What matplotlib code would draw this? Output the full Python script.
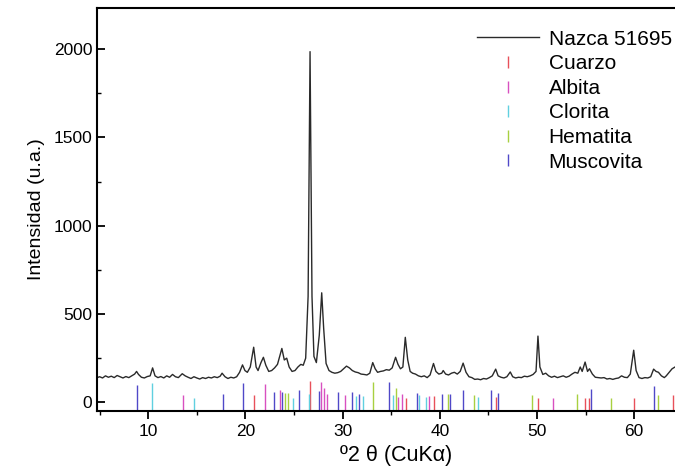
from matplotlib import pyplot as plt
from matplotlib.lines import Line2D
from matplotlib.ticker import MultipleLocator

plt.rcParams['font.family'] = ['Liberation Sans', 'DejaVu Sans']

# difractograma Nazca 51695
two_theta = [
  4.75, 5.0, 5.3, 5.6, 5.9, 6.2, 6.5, 6.8, 7.1, 7.4, 7.7, 8.0, 8.3, 8.6, 8.8, 9.0,
  9.3, 9.6, 9.9, 10.2, 10.45, 10.7, 11.0, 11.3, 11.6, 11.9, 12.2, 12.5, 12.8, 13.1,
  13.5, 13.8, 14.1, 14.4, 14.7, 15.0, 15.3, 15.6, 15.9, 16.2, 16.5, 16.8, 17.1, 17.4,
  17.6, 17.9, 18.2, 18.5, 18.8, 19.1, 19.4, 19.7, 19.95, 20.2, 20.5, 20.85, 21.1,
  21.3, 21.6, 21.85, 22.1, 22.4, 22.7, 23.0, 23.3, 23.55, 23.75, 24.0, 24.25, 24.5,
  24.8, 25.1, 25.4, 25.7, 25.95, 26.2, 26.45, 26.65, 26.85, 27.05, 27.3, 27.6, 27.85,
  28.05, 28.3, 28.6, 28.9, 29.2, 29.5, 29.8, 30.1, 30.4, 30.7, 31.0, 31.3, 31.6,
  31.9, 32.2, 32.5, 32.8, 33.1, 33.35, 33.6, 33.9, 34.2, 34.5, 34.8, 35.1, 35.45,
  35.7, 35.95, 36.2, 36.45, 36.7, 36.95, 37.2, 37.5, 37.8, 38.1, 38.4, 38.7, 39.0,
  39.35, 39.6, 39.9, 40.2, 40.35, 40.6, 40.9, 41.2, 41.5, 41.8, 42.1, 42.4, 42.7,
  43.0, 43.3, 43.6, 43.9, 44.2, 44.5, 44.8, 45.1, 45.4, 45.75, 46.0, 46.3, 46.6,
  46.9, 47.25, 47.5, 47.8, 48.1, 48.4, 48.7, 49.0, 49.3, 49.6, 49.9, 50.1, 50.3,
  50.6, 50.9, 51.2, 51.5, 51.8, 52.1, 52.4, 52.7, 53.0, 53.3, 53.6, 53.9, 54.2,
  54.45, 54.65, 54.95, 55.2, 55.4, 55.7, 56.0, 56.3, 56.6, 56.9, 57.2, 57.5, 57.8,
  58.1, 58.4, 58.7, 59.0, 59.3, 59.6, 59.95, 60.2, 60.5, 60.8, 61.1, 61.4, 61.7,
  62.0, 62.25, 62.5, 62.8, 63.1, 63.3, 63.6, 63.9, 64.2]
intensity = [
  140, 145, 138, 150, 142, 148, 140, 152, 145, 138, 146, 140, 150, 160, 175, 158,
  142, 138, 146, 150, 195, 150, 140, 146, 138, 150, 142, 158, 145, 140,
  162, 150, 142, 135, 145, 138, 132, 140, 135, 142, 138, 145, 140, 148,
  165, 145, 135, 142, 138, 145, 170, 212, 180, 170, 200, 312, 200,
  180, 225, 255, 210, 175, 180, 195, 215, 265, 305, 240, 250, 200,
  175, 180, 200, 215, 210, 250, 600, 1985, 600, 260, 225, 380, 620,
  420, 220, 180, 170, 165, 168, 175, 190, 205, 195, 180, 172, 168,
  160, 158, 155, 165, 225, 190, 170, 175, 178, 185, 182, 195, 255,
  215, 190, 200, 368, 240, 175, 165, 160, 150, 145, 150, 140, 155,
  220, 175, 160, 165, 180, 160, 155, 165, 170, 160, 175, 222, 170,
  145, 140, 130, 132, 128, 135, 132, 140, 150, 188, 150, 142, 138,
  145, 172, 145, 138, 142, 140, 148, 145, 150, 158, 175, 375, 200,
  158, 165, 150, 142, 148, 140, 145, 150, 142, 148, 160, 170, 165,
  200, 175, 228, 175, 190, 160, 142, 140, 138, 140, 132, 135, 130,
  135, 138, 150, 142, 140, 160, 295, 180, 140, 135, 140, 138, 145,
  188, 175, 170, 150, 140, 150, 170, 190, 200]

# fichas de referencia: posicion 2theta y altura de la barra
cuarzo_pos = [20.85, 26.6, 36.5, 39.4, 45.8, 50.1, 54.9, 55.3, 60.0, 64.0]
cuarzo_h = [40, 120, 25, 35, 30, 25, 25, 25, 25, 40]
albita_pos = [13.6, 22.0, 23.6, 27.8, 28.1, 28.4, 30.2, 35.7, 36.1, 38.9, 51.6]
albita_h = [40, 105, 70, 115, 80, 45, 40, 30, 45, 35, 25]
clorita_pos = [10.4, 14.7, 24.9, 26.5, 31.4, 32.1, 35.2, 37.9, 38.6, 43.9]
clorita_h = [110, 25, 25, 45, 35, 35, 40, 40, 30, 30]
hematita_pos = [24.1, 24.4, 33.1, 35.5, 40.8, 43.5, 49.5, 54.1, 57.6, 62.5]
hematita_h = [55, 55, 115, 80, 50, 40, 40, 45, 25, 40]
muscovita_pos = [8.8, 17.7, 19.8, 22.9, 23.8, 25.5, 27.6, 29.5, 31.0, 31.7, 34.8,
  37.7, 40.2, 41.0, 42.4, 45.3, 46.0, 55.6, 62.0]
muscovita_h = [97, 50, 108, 60, 60, 70, 65, 60, 60, 50, 115, 55, 45, 45, 70, 70,
  55, 75, 90]

fases = [
  ("Cuarzo", cuarzo_pos, cuarzo_h, "#e8505a"),
  ("Albita", albita_pos, albita_h, "#d850c0"),
  ("Clorita", clorita_pos, clorita_h, "#60d0e0"),
  ("Hematita", hematita_pos, hematita_h, "#a8d040"),
  ("Muscovita", muscovita_pos, muscovita_h, "#5048c8"),
]

YMIN = -50

fig = plt.figure(figsize=(6.75, 4.71), dpi=100)
ax = fig.add_axes([0.144, 0.127, 0.856, 0.856])

ax.plot(two_theta, intensity, color="#2a2a2a", lw=1.0)
handles = [Line2D([], [], color="#2a2a2a", lw=1.0)]
labels = ["Nazca 51695"]
for name, pos, h, col in fases:
  ax.vlines(pos, YMIN, h, colors=col, lw=1.0)
  handles.append(Line2D([], [], color=col, marker="|", ls="none", markersize=8))
  labels.append(name)

ax.set_xlim(4.75, 64.2)
ax.set_ylim(YMIN, 2232)
ax.xaxis.set_major_locator(MultipleLocator(10))
ax.xaxis.set_minor_locator(MultipleLocator(5))
ax.yaxis.set_major_locator(MultipleLocator(500))
ax.yaxis.set_minor_locator(MultipleLocator(250))
ax.tick_params(axis="x", which="major", direction="out", length=6, width=1.3, labelsize=12.5)
ax.tick_params(axis="x", which="minor", direction="out", length=3, width=1.0)
ax.tick_params(axis="y", which="major", direction="in", length=6, width=1.3, labelsize=12.5)
ax.tick_params(axis="y", which="minor", direction="in", length=3, width=1.0)
for s in ["left", "bottom", "top"]:
  ax.spines[s].set_linewidth(1.5)
ax.spines["right"].set_visible(False)

ax.set_xlabel("º2 θ (CuKα)", fontsize=15.5)
ax.xaxis.set_label_coords(0.517, -0.085)
ax.set_ylabel("Intensidad (u.a.)", fontsize=14, labelpad=6)

ax.legend(handles, labels, loc="upper right", bbox_to_anchor=(1.005, 0.962),
  frameon=False, fontsize=15, handlelength=3.0, handletextpad=0.45,
  labelspacing=0.27, borderaxespad=0.0, borderpad=0.3)

plt.savefig("out.png", dpi=100)
